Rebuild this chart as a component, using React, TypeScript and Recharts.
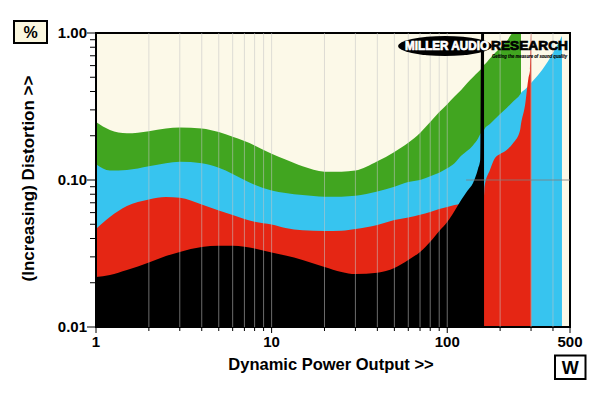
import React from 'react';
import { AreaChart, Area, XAxis, YAxis, CartesianGrid, ReferenceLine, ReferenceArea } from 'recharts';

const watts = [1, 1.2, 1.5, 2, 2.5, 3, 4, 5, 6, 7, 8, 10, 12, 15, 20, 25, 30, 40, 50, 60, 70, 80, 90, 100, 110, 120, 130, 140, 150, 154, 156, 162, 163, 175, 187, 200, 218, 238, 260, 263, 277, 290, 296, 300, 301, 350, 400, 450];

const green = [0.248, 0.219, 0.208, 0.215, 0.224, 0.228, 0.224, 0.212, 0.197, 0.184, 0.172, 0.151, 0.138, 0.124, 0.114, 0.114, 0.116, 0.134, 0.155, 0.179, 0.209, 0.248, 0.29, 0.328, 0.37, 0.41, 0.457, 0.5, 0.543, 0.56, 0.57, 0.607, 0.61, 0.67, 0.73, 0.79, 0.88, 1.0, 1.0, 1.0, null, null, null, null, null, null, null, null];

const blue = [0.128, 0.116, 0.117, 0.124, 0.13, 0.133, 0.13, 0.121, 0.11, 0.1, 0.093, 0.085, 0.0816, 0.079, 0.077, 0.077, 0.078, 0.0835, 0.09, 0.097, 0.1, 0.106, 0.112, 0.12, 0.13, 0.146, 0.158, 0.172, 0.192, 0.205, 0.21, 0.218, 0.222, 0.24, 0.26, 0.281, 0.309, 0.344, 0.382, 0.391, 0.413, 0.436, 0.45, 0.457, 0.459, 0.569, 0.731, 0.954];

const red = [0.0464, 0.056, 0.0665, 0.0737, 0.0766, 0.0757, 0.068, 0.062, 0.0578, 0.0543, 0.052, 0.0498, 0.0471, 0.0455, 0.045, 0.0452, 0.0464, 0.0494, 0.0534, 0.0555, 0.058, 0.0606, 0.0635, 0.0655, 0.0676, 0.069, 0.071, 0.073, 0.075, 0.076, 0.077, 0.079, 0.09, 0.117, 0.141, 0.15, 0.16, 0.179, 0.219, 0.24, 0.32, 0.494, 0.56, 1.0, 1.0, null, null, null];

const black = [0.0219, 0.0226, 0.0244, 0.0275, 0.0304, 0.0324, 0.035, 0.0357, 0.0357, 0.0351, 0.0342, 0.0321, 0.0306, 0.0286, 0.0256, 0.0237, 0.0229, 0.0234, 0.0252, 0.0286, 0.0324, 0.038, 0.045, 0.0518, 0.0615, 0.073, 0.0842, 0.095, 0.12, 0.137, 1.0, 1.0, null, null, null, null, null, null, null, null, null, null, null, null, null, null, null, null];

const xTicks = [1, 2, 3, 4, 5, 6, 7, 8, 9, 10, 20, 30, 40, 50, 60, 70, 80, 90, 100, 200, 300, 400, 500];
const xMajor = [1, 10, 100, 500];
const xTickLabels = ['1', '10', '100', '500'];
const yTicks = [0.01, 0.02, 0.03, 0.04, 0.05, 0.06, 0.07, 0.08, 0.09, 0.1, 0.2, 0.3, 0.4, 0.5, 0.6, 0.7, 0.8, 0.9, 1];
const yMajor = [0.01, 0.1, 1];
const yTickLabels = ['0.01', '0.10', '1.00'];
const gridWatts = [2, 3, 4, 5, 6, 7, 8, 9, 10, 20, 30, 40, 50, 60, 70, 80, 90, 100, 200, 300, 400];

const rows = watts.map((w, i) => ({ w, green: green[i], blue: blue[i], red: red[i], black: black[i] }));

const FONT = '"Liberation Sans", Arial, sans-serif';

const XTick = (props: any) => {
  const { x, y, payload } = props;
  const idx = xMajor.indexOf(payload.value);
  const major = idx >= 0;
  return (
    <g>
      <line x1={x} x2={x} y1={y + 1} y2={y + (major ? 6 : 4)} stroke="#000" strokeWidth={1} />
      {major && (
        <text x={x} y={y + 20} textAnchor="middle" fontFamily={FONT} fontWeight="bold" fontSize={15} fill="#000">
          {xTickLabels[idx]}
        </text>
      )}
    </g>
  );
};

const YTick = (props: any) => {
  const { x, y, payload } = props;
  const idx = yMajor.indexOf(payload.value);
  const major = idx >= 0;
  return (
    <g>
      <line x1={major ? x - 9 : x - 6} x2={x - 1} y1={y} y2={y} stroke="#000" strokeWidth={1} />
      {major && (
        <text x={x - 9} y={y + 5.4} textAnchor="end" fontFamily={FONT} fontWeight="bold" fontSize={15} fill="#000">
          {yTickLabels[idx]}
        </text>
      )}
    </g>
  );
};

export default function App() {
  return (
    <div style={{ position: 'absolute', left: 0, top: 0, width: 600, height: 393, background: '#fff' }}>
      <AreaChart width={600} height={393} data={rows} margin={{ top: 33, right: 30, bottom: 36, left: 6 }}>
        <CartesianGrid horizontal={false} vertical={false} fill="#fcf9e8" fillOpacity={1} />
        <XAxis
          dataKey="w"
          type="number"
          scale="log"
          domain={[1, 500]}
          allowDataOverflow
          ticks={xTicks}
          interval={0}
          height={30}
          tickSize={0}
          tickMargin={0}
          axisLine={false}
          tickLine={false}
          tick={<XTick />}
        />
        <YAxis
          type="number"
          scale="log"
          domain={[0.01, 1]}
          allowDataOverflow
          ticks={yTicks}
          interval={0}
          width={90}
          tickSize={0}
          tickMargin={0}
          axisLine={false}
          tickLine={false}
          tick={<YTick />}
        />
        <Area type="monotone" dataKey="green" fill="#41a520" fillOpacity={1} stroke="none" baseValue={0.01} isAnimationActive={false} dot={false} activeDot={false} />
        <Area type="monotone" dataKey="blue" fill="#37c4ef" fillOpacity={1} stroke="none" baseValue={0.01} isAnimationActive={false} dot={false} activeDot={false} />
        <Area type="monotone" dataKey="red" fill="#e52614" fillOpacity={1} stroke="none" baseValue={0.01} isAnimationActive={false} dot={false} activeDot={false} />
        <Area type="monotone" dataKey="black" fill="#000000" fillOpacity={1} stroke="none" baseValue={0.01} isAnimationActive={false} dot={false} activeDot={false} />
        {gridWatts.map((g) => (
          <ReferenceLine key={g} x={g} stroke="#c4c4c4" strokeOpacity={0.55} strokeWidth={1} />
        ))}
        <ReferenceLine segment={[{ x: 128, y: 0.1 }, { x: 500, y: 0.1 }]} stroke="#808080" strokeOpacity={0.85} strokeWidth={1} />
        <ReferenceArea x1={1} x2={500} y1={0.01} y2={1} fill="none" stroke="#000" strokeWidth={2} ifOverflow="visible" />
      </AreaChart>
      <svg width={600} height={393} style={{ position: 'absolute', left: 0, top: 0, pointerEvents: 'none' }}>
        <rect x={14} y={21} width={33} height={22} fill="#fbf7df" stroke="#000" strokeWidth={2} />
        <text x={30.5} y={37.5} textAnchor="middle" fontFamily={FONT} fontWeight="bold" fontSize={16} fill="#000">%</text>
        <rect x={555} y={355.5} width={30.5} height={23.5} fill="#fff" stroke="#000" strokeWidth={2} />
        <text x={570.3} y={374} textAnchor="middle" fontFamily={FONT} fontWeight="bold" fontSize={18} fill="#000">W</text>
        <text x={331} y={370} textAnchor="middle" fontFamily={FONT} fontWeight="bold" fontSize={16.5} fill="#000">Dynamic Power Output &gt;&gt;</text>
        <text x={34.4} y={178.5} textAnchor="middle" transform="rotate(-90 34.4 178.5)" fontFamily={FONT} fontWeight="bold" fontSize={17} fill="#000">(Increasing) Distortion &gt;&gt;</text>
        <ellipse cx={445} cy={46} rx={47} ry={10} fill="#000" />
        <text x={405} y={50} fontFamily={FONT} fontWeight="bold" fontSize={12} fill="#fff" stroke="#fff" strokeWidth={0.7} textLength={84} lengthAdjust="spacingAndGlyphs">MILLER AUDIO</text>
        <text x={491} y={50} fontFamily={FONT} fontWeight="bold" fontSize={12} fill="#000" stroke="#000" strokeWidth={0.7} textLength={77} lengthAdjust="spacingAndGlyphs">RESEARCH</text>
        <text x={492} y={58.3} fontFamily={FONT} fontWeight="bold" fontStyle="italic" fontSize={5} fill="#000" stroke="#000" strokeWidth={0.15} textLength={75} lengthAdjust="spacingAndGlyphs">Getting the measure of sound quality</text>
      </svg>
    </div>
  );
}
